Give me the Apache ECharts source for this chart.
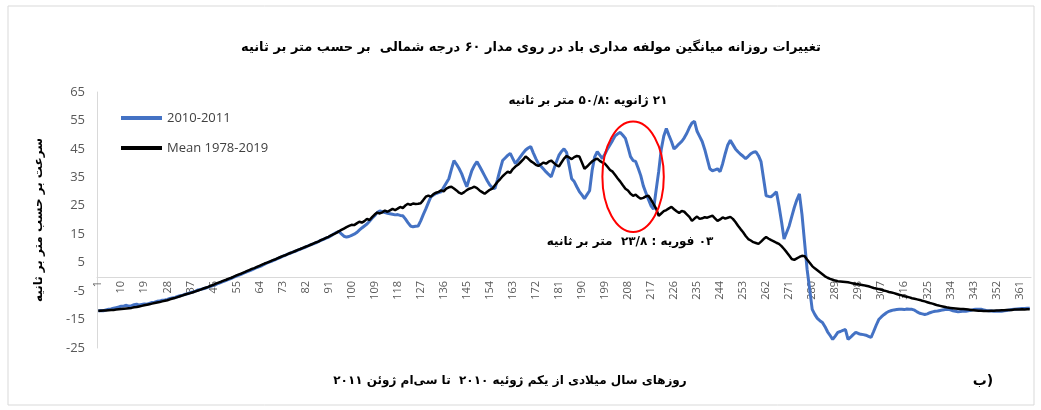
<!DOCTYPE html>
<html>
<head>
<meta charset="utf-8">
<script src="https://cdn.jsdelivr.net/npm/echarts@6/dist/echarts.min.js"></script>
<style>
html,body{margin:0;padding:0;background:#fff;}
#chart{width:1041px;height:410px;}
</style>
</head>
<body>
<div id="chart"></div>
<script>
// ---- data ----
const days = [];
for (let d = 1; d <= 365; d++) days.push(String(d));

const xLabelStep = 9;   // a day label every 9 days: 1, 10, 19, ...
const yTickLabels = [-25, -15, -5, 5, 15, 25, 35, 45, 55, 65];

const seriesNames = ['2010-2011', 'Mean 1978-2019'];

const values2010 = [
-12.0,-11.8,-11.9,-11.6,-11.4,-11.3,-11.0,-10.8,-10.6,-10.3,
-10.2,-10.0,-10.3,-10.1,-9.8,-9.6,-9.9,-9.7,-9.5,-9.6,
-9.3,-9.0,-8.9,-8.6,-8.5,-8.2,-8.1,-7.9,-7.6,-7.4,
-7.2,-6.9,-6.6,-6.4,-6.1,-5.9,-5.5,-5.3,-5.0,-4.6,
-4.4,-4.2,-3.9,-3.6,-3.3,-3.0,-2.6,-2.3,-1.9,-1.6,
-1.2,-0.9,-0.5,-0.1,0.3,0.6,1.0,1.4,1.8,2.1,
2.5,2.9,3.3,3.6,4.0,4.5,4.9,5.3,5.6,6.0,
6.4,6.8,7.2,7.6,8.0,8.3,8.7,9.0,9.4,9.8,
10.1,10.5,10.9,11.3,11.6,12.0,12.4,12.8,13.2,13.6,
14.0,14.5,15.1,15.6,16.0,15.1,14.3,14.0,14.2,14.6,
15.0,15.6,16.4,17.2,17.9,18.6,19.6,20.6,21.5,22.6,
23.2,22.9,22.6,22.4,22.2,22.0,21.8,21.9,21.6,21.5,
20.4,19.1,17.9,17.6,17.8,17.9,19.7,21.9,23.9,26.1,
28.2,28.8,29.3,29.6,29.9,31.5,33.0,34.5,37.8,40.9,
39.6,38.1,36.3,33.9,31.7,34.6,37.4,39.2,40.5,38.9,
37.2,35.5,33.8,32.3,31.4,31.0,34.2,37.6,40.9,41.8,
42.7,43.4,41.6,39.8,41.0,42.3,43.5,44.6,45.3,45.8,
43.6,41.6,39.8,38.9,37.9,36.9,36.0,35.2,37.8,40.4,
42.7,44.1,45.0,43.8,39.2,34.5,33.5,31.7,30.0,28.8,
27.5,28.9,30.3,37.5,42.2,44.0,42.8,41.6,43.2,45.0,
46.5,48.0,49.6,50.3,50.8,49.8,48.7,45.6,42.3,40.9,
40.6,38.2,35.6,32.0,29.6,27.2,25.0,23.8,30.5,37.0,
44.8,49.5,52.2,49.8,47.6,45.0,45.8,46.8,47.6,48.9,
50.5,52.5,54.1,54.7,51.2,49.4,47.6,44.8,41.4,38.0,
37.3,37.6,38.0,37.0,39.8,43.3,46.4,48.0,46.5,45.0,
44.0,43.1,42.4,41.6,42.4,43.3,43.8,44.0,42.6,40.5,
34.5,28.5,28.3,28.2,29.0,29.9,25.0,19.5,13.3,15.6,
17.9,21.2,24.4,27.1,29.2,22.0,12.3,2.7,-4.3,-11.4,
-13.2,-14.6,-15.4,-16.0,-17.5,-19.3,-20.6,-22.0,-20.8,-19.5,
-19.2,-18.8,-18.5,-22.0,-21.2,-20.3,-19.5,-19.9,-20.2,-20.3,
-20.5,-20.9,-21.3,-19.2,-17.0,-15.0,-14.1,-13.3,-12.6,-12.1,
-11.8,-11.6,-11.5,-11.4,-11.4,-11.5,-11.3,-11.4,-11.4,-11.7,
-12.3,-12.8,-13.0,-13.2,-13.0,-12.6,-12.3,-12.1,-12.0,-11.8,
-11.6,-11.5,-11.4,-11.6,-11.9,-12.1,-12.3,-12.2,-12.0,-12.1,
-11.9,-11.7,-11.5,-11.4,-11.4,-11.4,-11.6,-11.8,-11.9,-12.0,
-12.1,-12.1,-12.0,-12.1,-11.9,-11.8,-11.6,-11.5,-11.4,-11.3,
-11.2,-11.1,-11.1,-11.0,-11.0
];

const valuesMean = [
-11.9,-11.9,-11.8,-11.8,-11.7,-11.6,-11.6,-11.5,-11.4,-11.3,
-11.2,-11.1,-11.0,-10.9,-10.7,-10.6,-10.4,-10.2,-10.0,-9.8,
-9.6,-9.4,-9.2,-9.0,-8.8,-8.6,-8.4,-8.2,-7.9,-7.6,
-7.4,-7.1,-6.8,-6.5,-6.2,-5.9,-5.7,-5.4,-5.1,-4.8,
-4.5,-4.1,-3.8,-3.5,-3.1,-2.8,-2.4,-2.0,-1.7,-1.3,
-1.0,-0.6,-0.3,0.1,0.5,0.9,1.2,1.6,2.0,2.4,
2.8,3.1,3.5,3.9,4.3,4.7,5.0,5.4,5.8,6.1,
6.5,6.9,7.3,7.6,8.0,8.4,8.7,9.1,9.5,9.8,
10.2,10.6,10.9,11.3,11.7,12.1,12.4,12.9,13.3,13.7,
14.1,14.6,15.0,15.5,16.0,16.5,17.0,17.5,17.9,18.3,
18.2,18.8,19.4,19.1,19.6,20.4,20.0,21.0,21.9,22.6,
22.3,22.7,23.3,22.9,23.4,23.9,23.5,24.0,24.6,24.2,
25.1,25.7,25.3,25.8,25.6,25.7,25.9,27.0,28.2,28.6,
28.2,29.1,29.6,29.9,30.4,30.1,31.0,31.5,31.7,31.1,
30.4,29.6,29.2,29.8,30.5,31.0,31.3,31.7,31.2,30.4,
29.8,29.2,29.9,30.6,31.0,32.2,33.4,34.3,35.4,36.2,
37.0,36.6,37.9,38.8,39.4,40.3,41.2,42.3,41.6,40.7,
40.1,39.4,39.0,39.6,40.2,39.8,40.5,40.9,40.1,39.3,
38.8,40.2,41.6,42.5,42.0,41.4,42.1,42.5,42.3,40.2,
38.0,38.8,39.7,40.6,41.2,41.6,40.8,40.2,39.8,38.7,
37.6,37.0,35.8,34.6,33.5,32.2,31.0,30.4,29.2,28.5,
28.9,28.1,27.5,27.8,28.3,28.5,27.2,25.6,24.0,21.5,
22.3,23.1,23.5,24.1,24.6,23.8,23.1,22.5,23.2,22.9,
22.0,21.1,19.7,20.5,21.2,20.4,20.6,21.0,20.8,21.2,
21.5,20.6,19.7,20.2,20.9,20.5,20.8,21.1,20.4,19.3,
18.0,16.8,15.7,14.4,13.3,12.8,12.2,11.9,11.6,12.4,
13.3,14.0,13.4,12.9,12.5,12.0,11.6,10.8,9.8,8.7,
7.5,6.3,6.0,6.5,7.0,7.4,7.3,6.1,5.0,3.8,
3.0,2.3,1.6,0.9,0.2,-0.3,-0.7,-1.0,-1.3,-1.5,
-1.6,-1.7,-1.8,-1.9,-2.1,-2.3,-2.5,-2.6,-2.8,-2.9,
-3.1,-3.3,-3.6,-3.9,-4.1,-4.3,-4.5,-4.8,-5.0,-5.3,
-5.5,-5.7,-6.0,-6.3,-6.5,-6.8,-7.0,-7.2,-7.5,-7.7,
-7.9,-8.1,-8.4,-8.6,-8.9,-9.2,-9.4,-9.7,-10.0,-10.2,
-10.4,-10.6,-10.8,-10.9,-11.0,-11.1,-11.2,-11.3,-11.3,-11.4,
-11.5,-11.6,-11.7,-11.8,-11.9,-11.9,-12.0,-12.0,-12.0,-11.9,
-11.9,-11.8,-11.8,-11.7,-11.7,-11.6,-11.6,-11.6,-11.5,-11.5,
-11.5,-11.4,-11.5,-11.4,-11.4
];

// texts
const RLM = '\u200F';
const titleText = 'تغییرات روزانه میانگین مولفه مداری باد در روی مدار ۶۰ درجه شمالی  بر حسب متر بر ثانیه';
const yAxisName = 'سرعت بر حسب متر بر ثانیه';
const xAxisName = 'روزهای سال میلادی از یکم ژوئیه ۲۰۱۰  تا سی‌ام ژوئن ۲۰۱۱';
const note1 = '۲۱ ژانویه :۵۰/۸ متر بر ثانیه';
const note2 = '۰۳ فوریه : ۲۳/۸  متر بر ثانیه';
const panelLabel = '(ب';

// ellipse anchor (data coords): day, value, half-width in days, half-height in value
const ellipseAnchor = {day: 210, value: 35.2, halfDays: 12.2, halfValue: 19.4};

const faFont = '"DejaVu Sans", sans-serif';
const latFont = '"Open Sans", "Liberation Sans", sans-serif';

const chart = echarts.init(document.getElementById('chart'), null, {renderer: 'canvas'});

const option = {
  animation: false,
  backgroundColor: '#ffffff',
  grid: {left: 97, right: 10, top: 92, bottom: 62, containLabel: false},
  legend: {
    data: seriesNames,
    orient: 'vertical',
    left: 116,
    top: 104,
    icon: 'rect',
    itemWidth: 41,
    itemHeight: 4,
    itemGap: 12,
    textStyle: {fontFamily: latFont, fontSize: 13, color: '#404040', lineHeight: 18}
  },
  xAxis: {
    type: 'category',
    data: days,
    boundaryGap: true,
    axisLine: {onZero: false, lineStyle: {color: '#d9d9d9', width: 1}},
    axisTick: {show: false},
    axisLabel: {show: false},
    splitLine: {show: false}
  },
  yAxis: {
    type: 'value',
    min: -25,
    max: 65,
    name: RLM + yAxisName,
    nameLocation: 'middle',
    nameRotate: 90,
    nameGap: 52,
    nameTextStyle: {fontFamily: faFont, fontWeight: 'bold', fontSize: 12, color: '#000'},
    axisLine: {show: true, lineStyle: {color: '#d9d9d9'}},
    axisTick: {show: false},
    axisLabel: {customValues: yTickLabels, fontFamily: latFont, fontSize: 13, color: '#595959', margin: 12},
    splitLine: {show: false}
  },
  series: [
    {
      name: seriesNames[0], type: 'line', data: values2010, symbol: 'none',
      lineStyle: {color: '#4472C4', width: 3}, itemStyle: {color: '#4472C4'}, z: 2
    },
    {
      name: seriesNames[1], type: 'line', data: valuesMean, symbol: 'none',
      lineStyle: {color: '#000000', width: 2.5}, itemStyle: {color: '#000000'}, z: 3
    }
  ]
};
chart.setOption(option);

// move the category axis up to the value 0 line (Excel style crossing)
const yZero = chart.convertToPixel({yAxisIndex: 0}, 0);
const yMin = chart.convertToPixel({yAxisIndex: 0}, -25);
chart.setOption({xAxis: {offset: -(yMin - yZero)}});

// rotated day labels placed through the category scale
const labelGraphics = [];
for (let i = 0; i < days.length; i += xLabelStep) {
  const px = chart.convertToPixel({xAxisIndex: 0}, i);
  labelGraphics.push({
    type: 'text', x: px, y: yZero + 4, rotation: Math.PI / 2, z: 1, silent: true,
    style: {text: days[i], font: '11px "Open Sans", "Liberation Sans", sans-serif', fill: '#595959', textAlign: 'right', textVerticalAlign: 'middle'}
  });
}

// annotations anchored through the chart's own coordinate system
const c = chart.convertToPixel({gridIndex: 0}, [ellipseAnchor.day - 1, ellipseAnchor.value]);
const cx2 = chart.convertToPixel({gridIndex: 0}, [ellipseAnchor.day - 1 + ellipseAnchor.halfDays, ellipseAnchor.value + ellipseAnchor.halfValue]);
const rx = Math.abs(cx2[0] - c[0]);
const ry = Math.abs(cx2[1] - c[1]);

const boldFa = (size) => 'bold ' + size + 'px "DejaVu Sans", sans-serif';

chart.setOption({
  graphic: labelGraphics.concat([
    {type: 'rect', shape: {x: 8, y: 6, width: 1026, height: 399}, style: {fill: 'none', stroke: '#d9d9d9', lineWidth: 1}, z: 0, silent: true},
    {type: 'text', x: 531, y: 48, style: {text: RLM + titleText, font: boldFa(13), fill: '#000', textAlign: 'center', textVerticalAlign: 'middle'}},
    {type: 'text', x: 588, y: 101, style: {text: RLM + note1, font: boldFa(12), fill: '#000', textAlign: 'center', textVerticalAlign: 'middle'}},
    {type: 'text', x: 630, y: 242, style: {text: RLM + note2, font: boldFa(12), fill: '#000', textAlign: 'center', textVerticalAlign: 'middle'}},
    {type: 'text', x: 510, y: 381, style: {text: RLM + xAxisName, font: boldFa(12), fill: '#000', textAlign: 'center', textVerticalAlign: 'middle'}},
    {type: 'text', x: 983, y: 381, style: {text: RLM + panelLabel, font: boldFa(14), fill: '#000', textAlign: 'center', textVerticalAlign: 'middle'}},
    {type: 'ellipse', shape: {cx: c[0], cy: c[1], rx: rx, ry: ry}, style: {fill: 'none', stroke: '#ff0000', lineWidth: 2}, z: 10}
  ])
});
</script>
</body>
</html>
